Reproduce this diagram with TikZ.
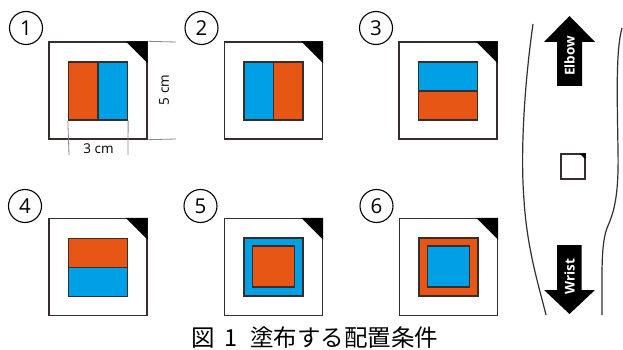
\documentclass[tikz,border=0pt]{standalone}
\usepackage{fontspec}
\setmainfont{Open Sans}
\newfontfamily\jpfont{Noto Sans CJK JP}
\definecolor{paintorange}{RGB}{232,86,22}
\definecolor{paintblue}{RGB}{0,160,230}
\definecolor{edge}{RGB}{55,45,45}
\definecolor{dimgray}{RGB}{135,135,135}

\tikzset{
  plate/.style={draw=edge, line width=1.4pt, fill=white, minimum width=98pt,
    minimum height=97pt, inner sep=0pt},
  block/.style={draw=edge, line width=1.3pt, minimum width=59pt,
    minimum height=58pt, inner sep=0pt},
  core/.style={draw=edge, line width=1.3pt, minimum width=42pt,
    minimum height=41pt, inner sep=0pt},
  split lr/.style 2 args={block, path picture={
    \fill[#1] (path picture bounding box.north west) rectangle (path picture bounding box.south);
    \fill[#2] (path picture bounding box.north) rectangle (path picture bounding box.south east);
    \draw[edge, line width=1.3pt] (path picture bounding box.north) -- (path picture bounding box.south);}},
  split tb/.style 2 args={block, path picture={
    \fill[#1] (path picture bounding box.north west) rectangle (path picture bounding box.east);
    \fill[#2] (path picture bounding box.west) rectangle (path picture bounding box.south east);
    \draw[edge, line width=1.3pt] (path picture bounding box.west) -- (path picture bounding box.east);}},
  numcirc/.style={draw=black, line width=1.1pt, circle, minimum size=33pt,
    inner sep=0pt, font=\fontsize{20.5}{20.5}\selectfont},
  dimline/.style={draw=dimgray, line width=0.8pt},
  dimtext/.style={font=\fontsize{13.5}{13.5}\selectfont, inner sep=0pt},
  arrowlabel/.style={text=white, rotate=90, inner sep=0pt,
    font=\bfseries\fontsize{13.5}{13.5}\selectfont},
  wave/.style={draw=edge, line width=1.2pt},
}

% black marker in the upper right corner of a plate
\newcommand{\cornermark}[2]{%
  \fill[black] ([xshift=-#2]#1.north east) -- (#1.north east) -- ([yshift=-#2]#1.north east) -- cycle;}

\begin{document}
\begin{tikzpicture}[x=1pt,y=-1pt]
\useasboundingbox[fill=white] (0,0) rectangle (623,350);

% ---- plates -------------------------------------------------------
\node[plate] (p1) at (98,90.5) {};
\node[plate] (p2) at (273.5,90.5) {};
\node[plate] (p3) at (448,90.5) {};
\node[plate] (p4) at (98,267) {};
\node[plate] (p5) at (273.5,267) {};
\node[plate] (p6) at (448.5,267) {};
\foreach \p in {p1,p2,p3,p4,p5,p6} {\cornermark{\p}{22pt}}

% ---- painted areas ------------------------------------------------
\node[split lr={paintorange}{paintblue}] (b1) at ([yshift=-0.5pt]p1.center) {};
\node[split lr={paintblue}{paintorange}] (b2) at ([yshift=-0.5pt]p2.center) {};
\node[split tb={paintblue}{paintorange}] (b3) at ([yshift=-0.5pt]p3.center) {};
\node[split tb={paintorange}{paintblue}] (b4) at ([yshift=-0.5pt]p4.center) {};
\node[block, fill=paintblue] (b5) at (p5.center) {};
\node[core, fill=paintorange] (c5) at ([yshift=0.5pt]b5.center) {};
\node[block, fill=paintorange] (b6) at (p6.center) {};
\node[core, fill=paintblue] (c6) at ([yshift=0.5pt]b6.center) {};

% ---- numbers ------------------------------------------------------
\node[numcirc] (n1) at (26,28) {1};
\node[numcirc] (n2) at (201.5,28) {2};
\node[numcirc] (n3) at (376,28) {3};
\node[numcirc] (n4) at (25,206) {4};
\node[numcirc] (n5) at (200.5,206) {5};
\node[numcirc] (n6) at (376.5,206) {6};

% ---- dimensions of plate 1 ----------------------------------------
\coordinate (dt) at (176,42);
\coordinate (db) at (176,139);
\coordinate (dl) at (69,155);
\coordinate (dr) at (128,155);
\draw[dimline] (p1.north east) -- (dt);
\draw[dimline] (p1.south east) -- (db);
\draw[dimline] (b1.south west) -- (dl);
\draw[dimline] (b1.south east) -- (dr);
\node[dimtext, rotate=90] (h5) at (164,90) {5 cm};
\node[dimtext] (w3) at (98.5,148.5) {3 cm};

% ---- arm outline --------------------------------------------------
\draw[wave] (533,24) .. controls (525,80) and (520,150) .. (524,200)
  .. controls (527,250) and (540,290) .. (546,315);
\draw[wave] (622,28) .. controls (616,50) and (617,90) .. (618,150)
  .. controls (619,200) and (613,214) .. (607,228)
  .. controls (601,245) and (602,270) .. (602,315);

% ---- direction arrows ---------------------------------------------
\fill[black] (569.5,16) -- (595,42) -- (582,42) -- (582,86) -- (557,86)
  -- (557,42) -- (544,42) -- cycle;
\node[arrowlabel] (elbow) at (569.5,56) {Elbow};
\fill[black] (569.5,314) -- (595,290) -- (581.5,290) -- (581.5,245) -- (557,245)
  -- (557,290) -- (544,290) -- cycle;
\node[arrowlabel] (wrist) at (569.5,277) {Wrist};

% ---- small plate on the arm ---------------------------------------
\node[draw=edge, line width=1.2pt, fill=white, minimum width=24pt,
  minimum height=25pt, inner sep=0pt] (mini) at (573,166.5) {};
\cornermark{mini}{6pt}

% ---- caption ------------------------------------------------------
\node[anchor=west, inner sep=0pt, font=\jpfont\fontsize{23.5}{23.5}\selectfont]
  (cap) at (191.5,338) {図\hspace{9pt}1\hspace{13pt}塗布する配置条件};
\end{tikzpicture}
\end{document}
